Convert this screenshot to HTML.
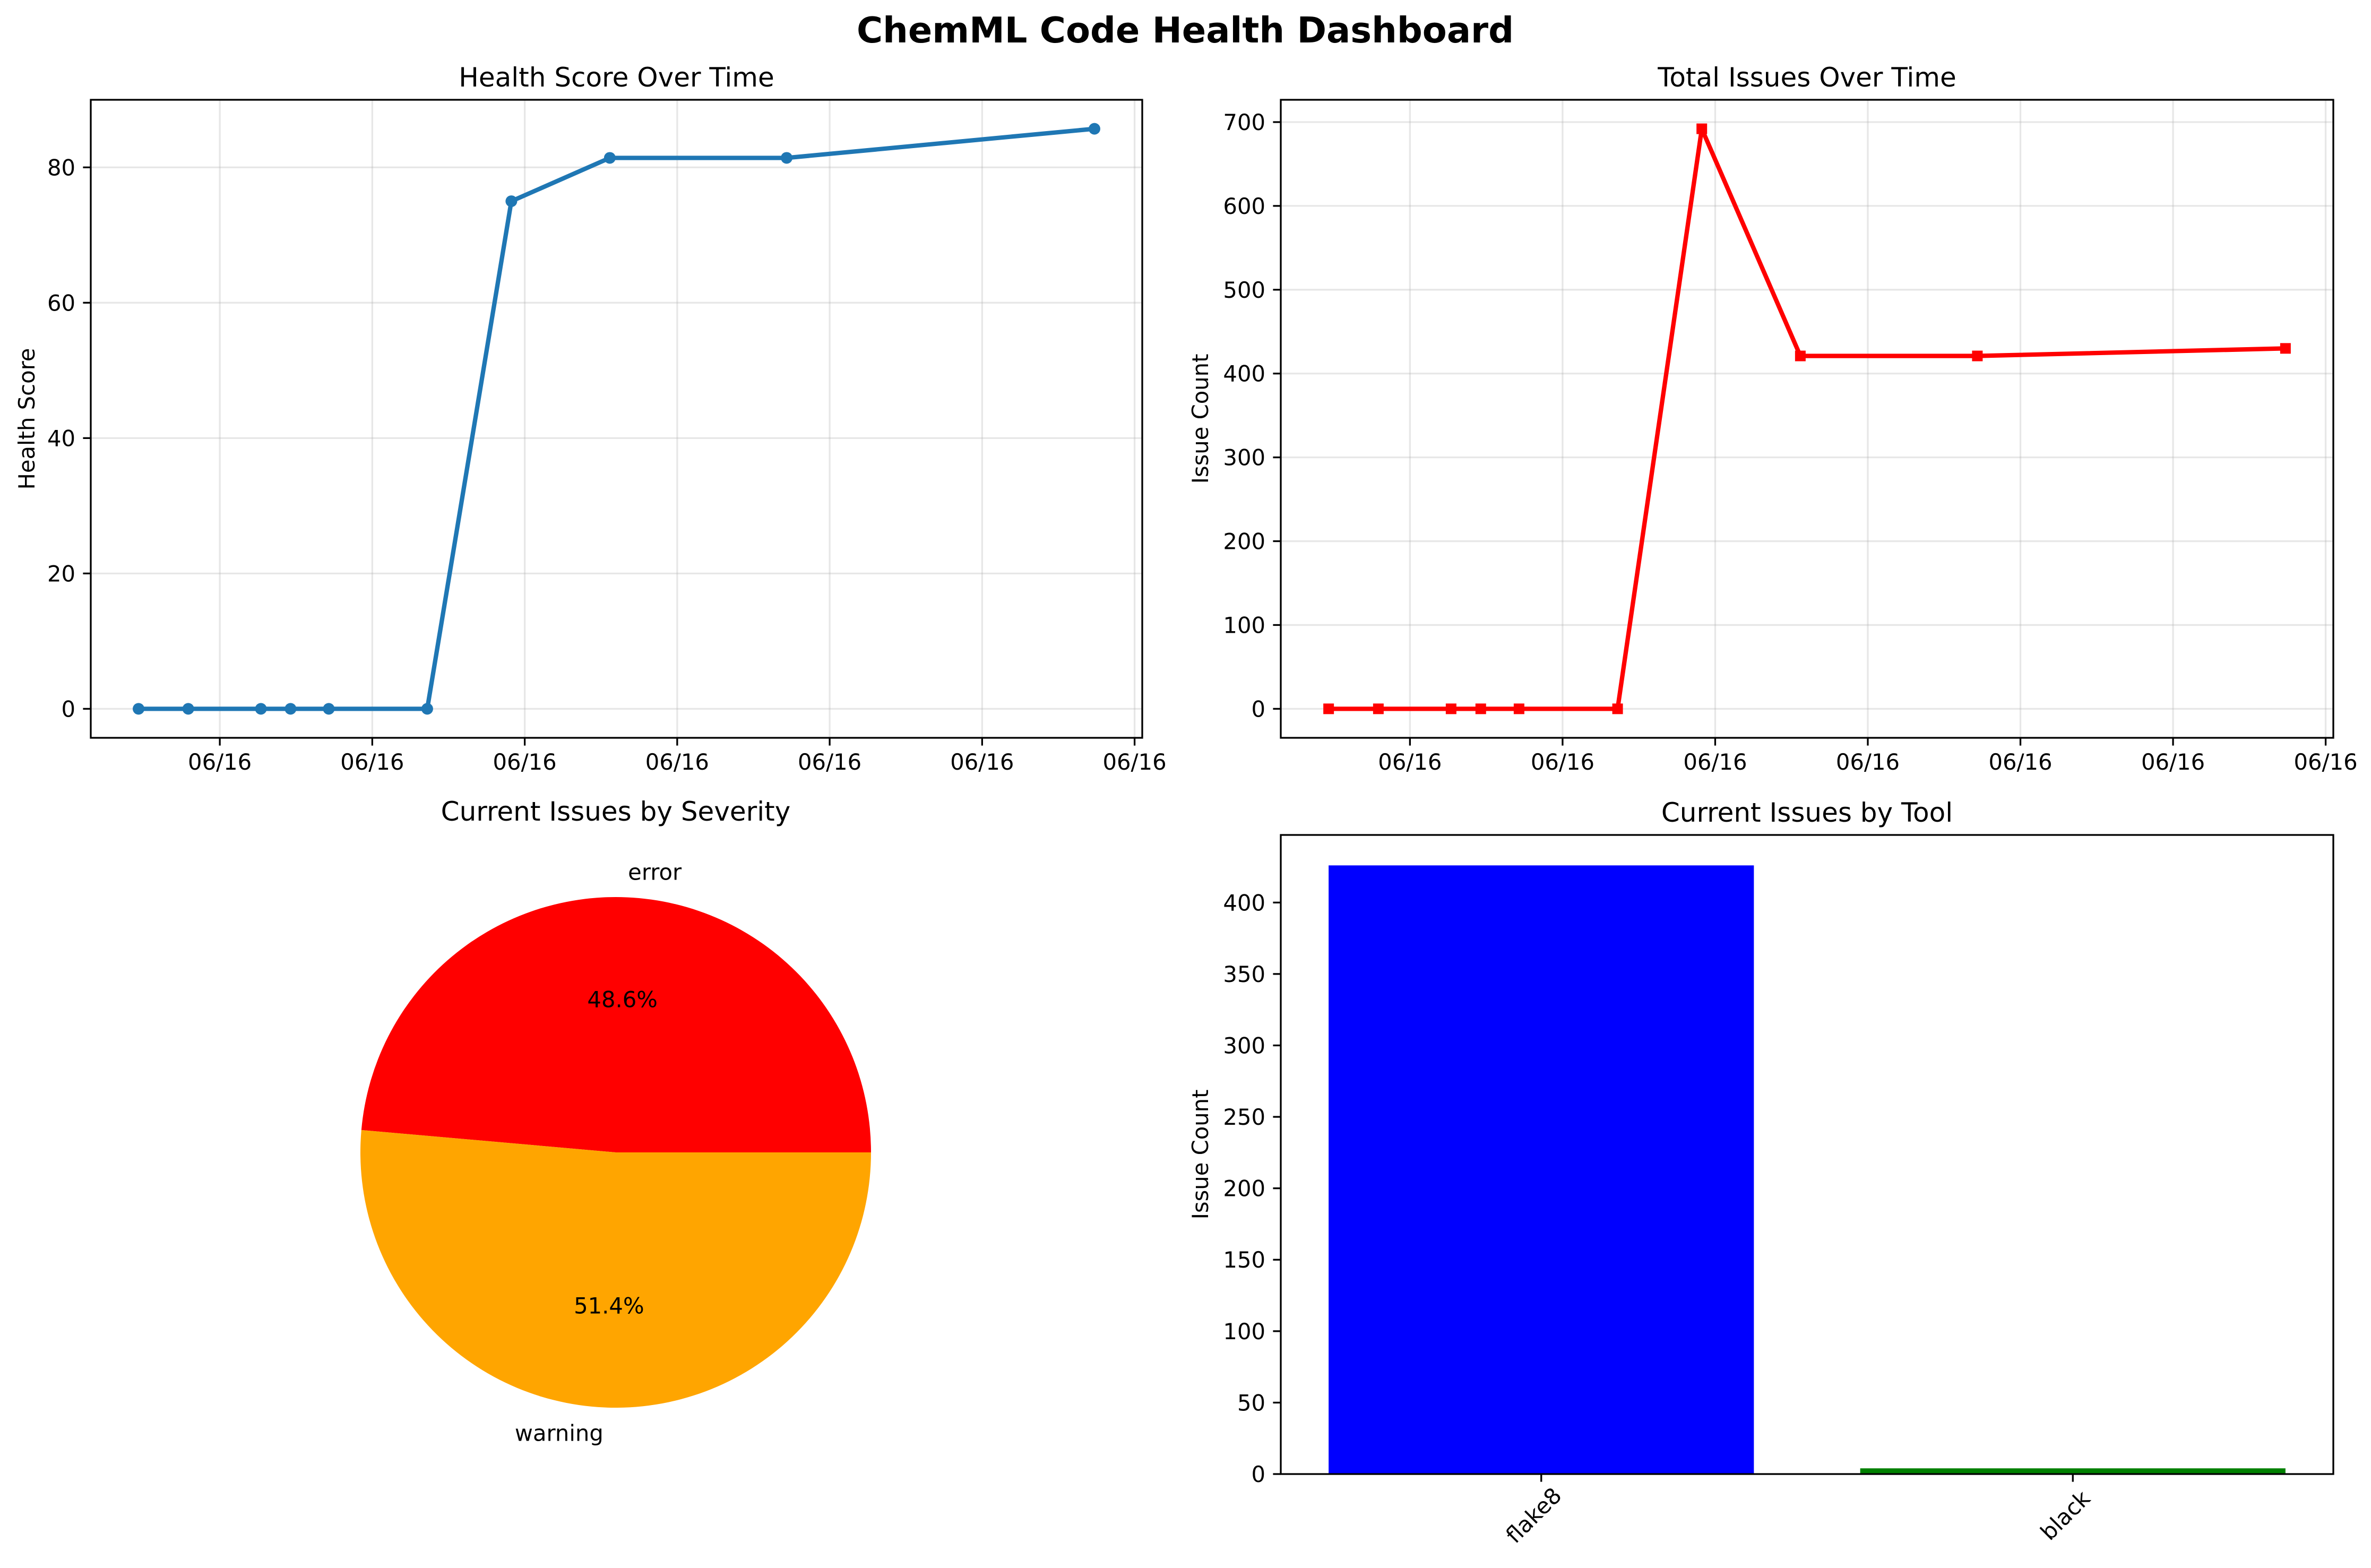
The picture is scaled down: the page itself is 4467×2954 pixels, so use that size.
<!DOCTYPE html>
<html><head><meta charset="utf-8"><style>
html,body{margin:0;padding:0;background:#fff}
svg{display:block;font-family:"DejaVu Sans","Liberation Sans",sans-serif}
</style></head><body>
<svg id="fig" width="4467" height="2954" viewBox="0 0 4467 2954" xmlns="http://www.w3.org/2000/svg">
<rect width="4467" height="2954" fill="#fff"/>
<text x="2233" y="80" text-anchor="middle" font-size="67" font-weight="bold">ChemML Code Health Dashboard</text>
</svg>
<script>
// ---- data ----
const timePoints = [0, 5.2, 12.8, 15.9, 19.9, 30.2, 39.0, 49.3, 67.8, 100];
const healthScores = [0, 0, 0, 0, 0, 0, 75, 81.4, 81.4, 85.7];
const totalIssues = [0, 0, 0, 0, 0, 0, 692, 421, 421, 430];
const timeTicks = [8.5, 24.45, 40.4, 56.35, 72.3, 88.25, 104.2];
const timeTickLabels = ["06/16","06/16","06/16","06/16","06/16","06/16","06/16"];
const healthTicks = [0, 20, 40, 60, 80];
const issueTicks = [0, 100, 200, 300, 400, 500, 600, 700];
const severityLabels = ["error", "warning"];
const severityCounts = [209, 221];
const severityColors = ["#ff0000", "#ffa500"];
const toolNames = ["flake8", "black"];
const toolCounts = [426, 4];
const toolColors = ["#0000ff", "#008000"];
const barTicks = [0, 50, 100, 150, 200, 250, 300, 350, 400];

const NS = "http://www.w3.org/2000/svg";
const fig = document.getElementById('fig');
function mk(tag, attrs, parent, text) {
  const e = document.createElementNS(NS, tag);
  for (const k in attrs) e.setAttribute(k, attrs[k]);
  if (text !== undefined) e.textContent = text;
  (parent || fig).appendChild(e);
  return e;
}
function extent(vals, pad) {
  const lo = Math.min(...vals), hi = Math.max(...vals), m = (hi - lo) * pad;
  return [lo - m, hi + m];
}

function lineChart(box, xs, ys, yTicks, color, marker, title, ylabel, ylabelX, name) {
  const g = mk('g', {});
  
  
  const [x0, x1] = extent(xs, 0.05);
  const [y0, y1] = extent(ys, 0.05);
  const X = v => box.l + (v - x0) / (x1 - x0) * (box.r - box.l);
  const Y = v => box.b - (v - y0) / (y1 - y0) * (box.b - box.t);
  timeTicks.forEach((t, i) => {
    const px = X(t);
    if (px < box.l || px > box.r + 1) return;
    const gl = mk('line', {x1: px, x2: px, y1: box.t, y2: box.b, stroke: '#b0b0b0', 'stroke-opacity': 0.3, 'stroke-width': 3.3}, g);
    
    
    mk('line', {x1: px, x2: px, y1: box.b, y2: box.b + 14.6, stroke: '#000', 'stroke-width': 3.3}, g);
    const tl = mk('text', {x: px, y: box.b + 29 + 31, 'text-anchor': 'middle', 'font-size': 41.7}, g, timeTickLabels[i]);
    
    
  });
  yTicks.forEach(t => {
    const py = Y(t);
    const gl = mk('line', {x1: box.l, x2: box.r, y1: py, y2: py, stroke: '#b0b0b0', 'stroke-opacity': 0.3, 'stroke-width': 3.3}, g);
    
    
    mk('line', {x1: box.l - 14.6, x2: box.l, y1: py, y2: py, stroke: '#000', 'stroke-width': 3.3}, g);
    const tl = mk('text', {x: box.l - 29, y: py + 15, 'text-anchor': 'end', 'font-size': 41.7}, g, String(t));
    
    
  });
  const pts = xs.map((v, i) => X(v) + ',' + Y(ys[i])).join(' ');
  const pl = mk('polyline', {points: pts, fill: 'none', stroke: color, 'stroke-width': 8.3, 'stroke-linejoin': 'round', 'stroke-linecap': 'square'}, g);
  
  
  xs.forEach((v, i) => {
    let m;
    if (marker === 'o') m = mk('circle', {cx: X(v), cy: Y(ys[i]), r: 11, fill: color}, g);
    else m = mk('rect', {x: X(v) - 10, y: Y(ys[i]) - 10, width: 20, height: 20, fill: color}, g);
    
    
  });
  const fr = mk('rect', {x: box.l, y: box.t, width: box.r - box.l, height: box.b - box.t, fill: 'none', stroke: '#000', 'stroke-width': 3.3}, g);
  
  
  const tt = mk('text', {x: (box.l + box.r) / 2, y: box.t - 25, 'text-anchor': 'middle', 'font-size': 50}, g, title);
  
  
  const yl = mk('text', {x: 0, y: 0, 'text-anchor': 'middle', 'font-size': 41.7, transform: `translate(${ylabelX},${(box.t + box.b) / 2}) rotate(-90)`}, g, ylabel);
  
  
}

lineChart({l: 171, r: 2152, t: 188, b: 1390}, timePoints, healthScores, healthTicks, '#1f77b4', 'o', 'Health Score Over Time', 'Health Score', 65, 'health-score-chart');
lineChart({l: 2413, r: 4396, t: 188, b: 1390}, timePoints, totalIssues, issueTicks, '#ff0000', 's', 'Total Issues Over Time', 'Issue Count', 2276, 'total-issues-chart');

// ---- pie ----
(function () {
  const g = mk('g', {});
  
  
  const cx = 1160, cy = 2171, R = 481;
  const tot = severityCounts.reduce((a, b) => a + b, 0);
  let a0 = 0;
  severityCounts.forEach((c, i) => {
    const frac = c / tot, a1 = a0 + frac * 2 * Math.PI;
    const p = (a) => [cx + R * Math.cos(a), cy - R * Math.sin(a)];
    const [sx, sy] = p(a0), [ex, ey] = p(a1);
    const large = frac > 0.5 ? 1 : 0;
    const w = mk('path', {d: `M${cx},${cy} L${sx},${sy} A${R},${R} 0 ${large} 0 ${ex},${ey} Z`, fill: severityColors[i]}, g);
    
    
    const am = (a0 + a1) / 2;
    const lx = cx + 1.1 * R * Math.cos(am), ly = cy - 1.1 * R * Math.sin(am);
    const anchor = Math.cos(am) >= 0 ? 'start' : 'end';
    const lt = mk('text', {x: lx, y: ly + 15, 'text-anchor': anchor, 'font-size': 41.7}, g, severityLabels[i]);
    
    
    const px = cx + 0.6 * R * Math.cos(am), py = cy - 0.6 * R * Math.sin(am);
    const pt = mk('text', {x: px, y: py + 15, 'text-anchor': 'middle', 'font-size': 41.7}, g, (frac * 100).toFixed(1) + '%');
    
    
    a0 = a1;
  });
  const tt = mk('text', {x: 1160, y: 1546, 'text-anchor': 'middle', 'font-size': 50}, g, 'Current Issues by Severity');
  
  
})();

// ---- bar ----
(function () {
  const g = mk('g', {});
  
  
  const box = {l: 2413, r: 4396, t: 1573, b: 2777};
  const n = toolNames.length;
  const x0 = -0.4 - (n - 1 + 0.8) * 0.05, x1 = (n - 1) + 0.4 + (n - 1 + 0.8) * 0.05;
  const ymax = Math.max(...toolCounts) * 1.05;
  const X = v => box.l + (v - x0) / (x1 - x0) * (box.r - box.l);
  const Y = v => box.b - v / ymax * (box.b - box.t);
  toolCounts.forEach((c, i) => {
    const b = mk('rect', {x: X(i - 0.4), y: Y(c), width: X(i + 0.4) - X(i - 0.4), height: box.b - Y(c), fill: toolColors[i]}, g);
    
    
    mk('line', {x1: X(i), x2: X(i), y1: box.b, y2: box.b + 14.6, stroke: '#000', 'stroke-width': 3.3}, g);
    const tl = mk('text', {x: 0, y: 0, 'text-anchor': 'middle', 'font-size': 41.7, transform: `translate(${X(i) - 4},${box.b + 88}) rotate(-45)`}, g, toolNames[i]);
    
    
  });
  barTicks.forEach(t => {
    const py = Y(t);
    mk('line', {x1: box.l - 14.6, x2: box.l, y1: py, y2: py, stroke: '#000', 'stroke-width': 3.3}, g);
    const tl = mk('text', {x: box.l - 29, y: py + 15, 'text-anchor': 'end', 'font-size': 41.7}, g, String(t));
    
    
  });
  const fr = mk('rect', {x: box.l, y: box.t, width: box.r - box.l, height: box.b - box.t, fill: 'none', stroke: '#000', 'stroke-width': 3.3}, g);
  
  
  const tt = mk('text', {x: (box.l + box.r) / 2, y: box.t - 25, 'text-anchor': 'middle', 'font-size': 50}, g, 'Current Issues by Tool');
  
  
  const yl = mk('text', {x: 0, y: 0, 'text-anchor': 'middle', 'font-size': 41.7, transform: `translate(2276,${(box.t + box.b) / 2}) rotate(-90)`}, g, 'Issue Count');
  
  
})();
</script>
</body></html>
